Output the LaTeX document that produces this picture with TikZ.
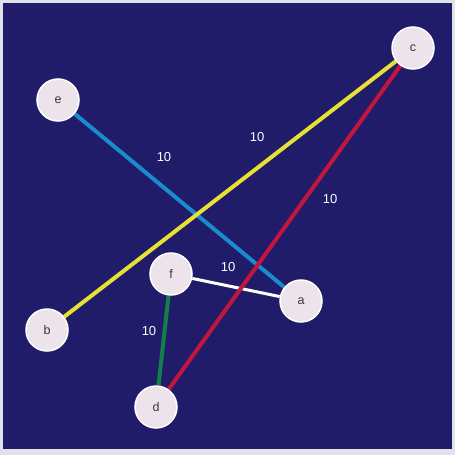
\documentclass[tikz,border=0pt]{standalone}
\usepackage{fontspec}
\setmainfont{Liberation Sans}
\usetikzlibrary{backgrounds}
\definecolor{bgnavy}{RGB}{32,28,106}
\definecolor{nodefill}{RGB}{236,228,234}
\definecolor{frame}{RGB}{225,225,232}
\definecolor{eyellow}{RGB}{232,224,50}
\definecolor{eblue}{RGB}{24,140,205}
\definecolor{ered}{RGB}{196,22,60}
\definecolor{egreen}{RGB}{16,128,70}
\definecolor{txtgray}{RGB}{55,55,65}
\begin{document}
\begin{tikzpicture}[x=1pt,y=-1pt,
  vertex/.style={circle,fill=nodefill,draw=white,line width=1.5pt,minimum size=42pt,inner sep=0pt,font=\fontsize{12.5}{12.5}\selectfont,text=txtgray},
  edge/.style={line width=4pt},
  wlabel/.style={font=\fontsize{13}{13}\selectfont,text=white}]
\node[vertex] (c) at (413,48) {c};
\node[vertex] (e) at (58,100) {e};
\node[vertex] (f) at (171,274) {f};
\node[vertex] (a) at (301,301) {a};
\node[vertex] (b) at (47,330) {b};
\node[vertex] (d) at (156,407) {d};
\node[wlabel] (l1) at (164,157) {10};
\node[wlabel] (l2) at (257,137) {10};
\node[wlabel] (l3) at (330,199) {10};
\node[wlabel] (l4) at (228,267) {10};
\node[wlabel] (l5) at (149,331) {10};
\begin{scope}[on background layer]
\fill[frame] (0,0) rectangle (455,455);
\fill[bgnavy] (3,3) rectangle (452,449);
\draw[edge,eblue] (e) -- (a);
\draw[edge,white,line width=3pt] (f) -- (a);
\draw[edge,egreen] (f) -- (d);
\draw[edge,eyellow] (b) -- (c);
\draw[edge,ered] (d) -- (c);
\end{scope}
\useasboundingbox (0,0) rectangle (455,455);
\end{tikzpicture}
\end{document}
